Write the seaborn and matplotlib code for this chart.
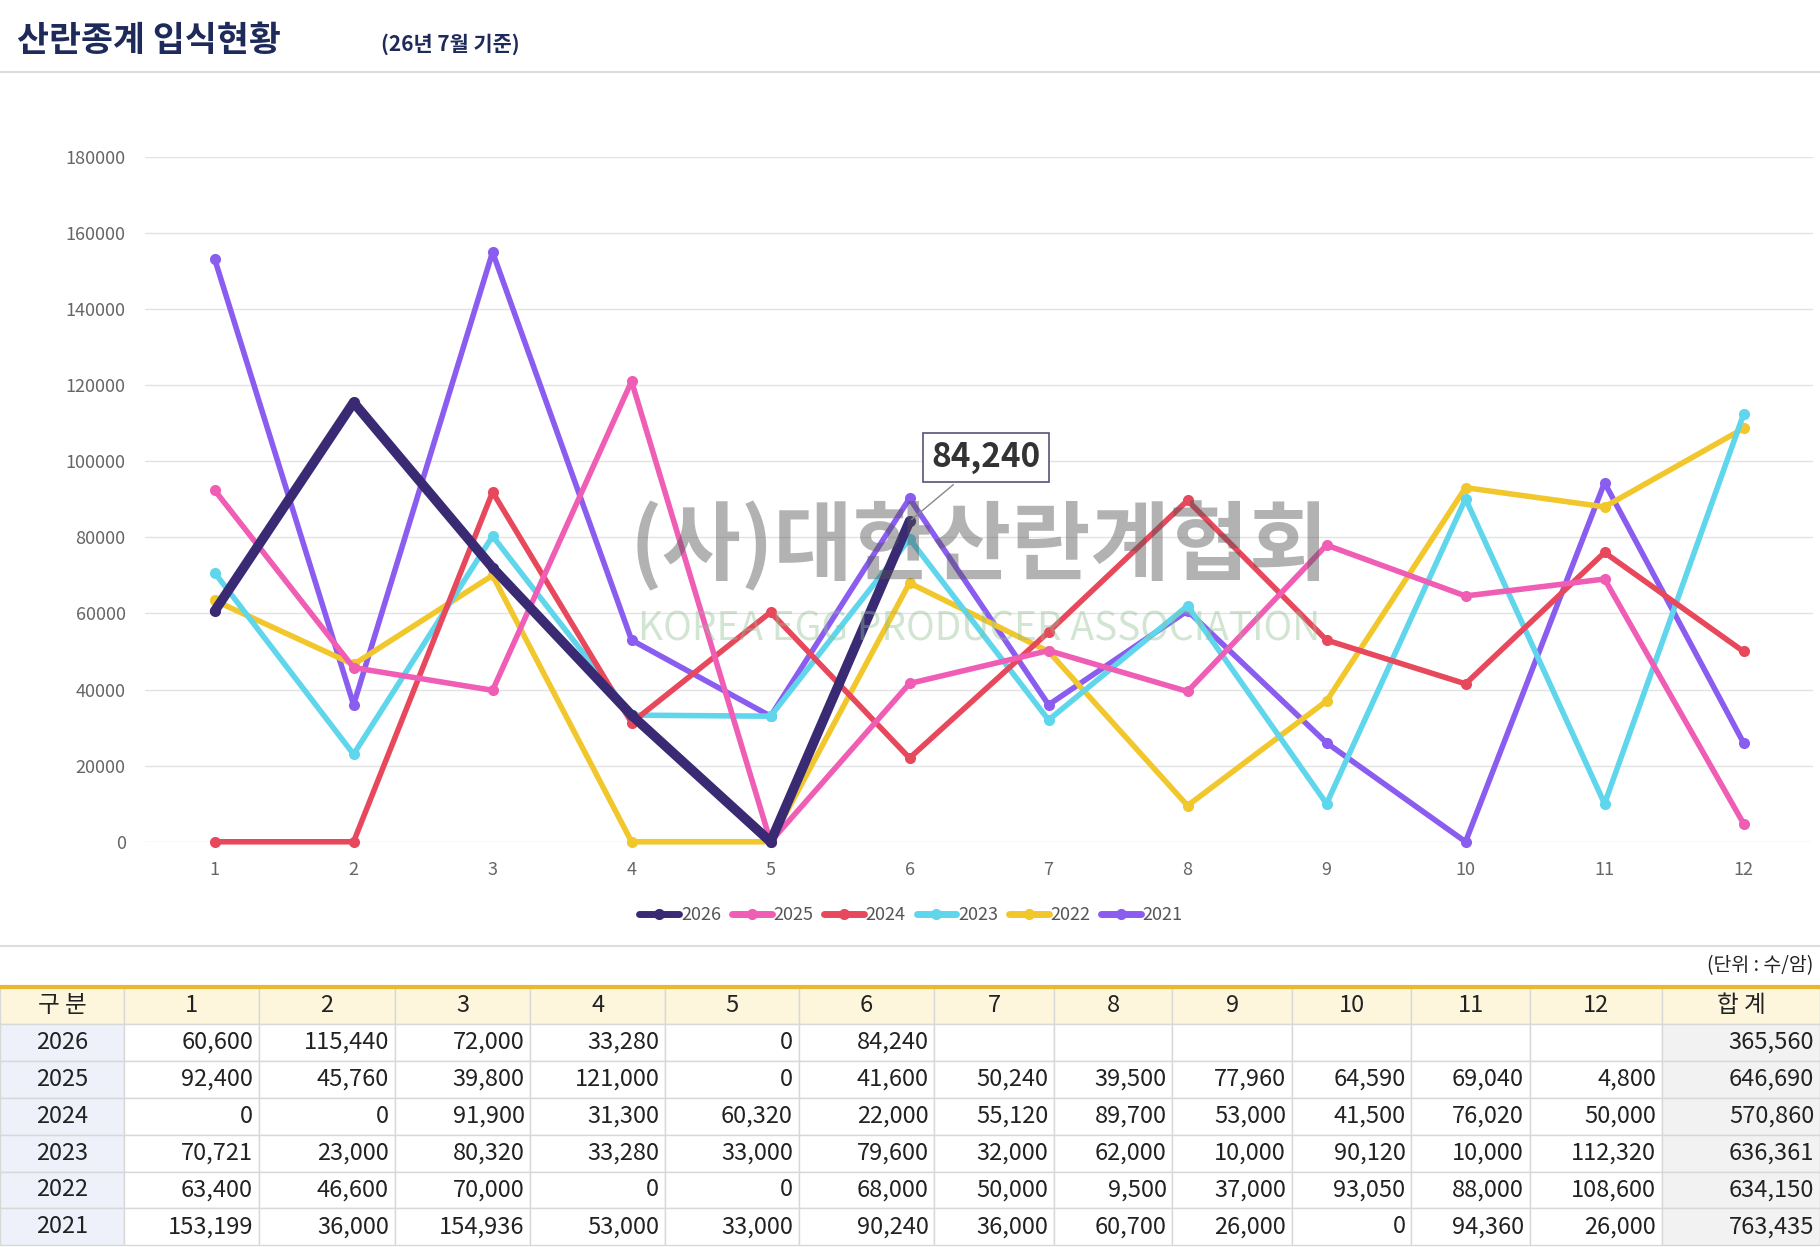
import matplotlib
matplotlib.use("Agg")
import matplotlib.pyplot as plt
import seaborn as sns
import pandas as pd
from matplotlib.patches import Rectangle
from matplotlib.lines import Line2D

months = list(range(1, 13))
years = ["2026", "2025", "2024", "2023", "2022", "2021"]
v2026 = [60600, 115440, 72000, 33280, 0, 84240, None, None, None, None, None, None]
v2025 = [92400, 45760, 39800, 121000, 0, 41600, 50240, 39500, 77960, 64590, 69040, 4800]
v2024 = [0, 0, 91900, 31300, 60320, 22000, 55120, 89700, 53000, 41500, 76020, 50000]
v2023 = [70721, 23000, 80320, 33280, 33000, 79600, 32000, 62000, 10000, 90120, 10000, 112320]
v2022 = [63400, 46600, 70000, 0, 0, 68000, 50000, 9500, 37000, 93050, 88000, 108600]
v2021 = [153199, 36000, 154936, 53000, 33000, 90240, 36000, 60700, 26000, 0, 94360, 26000]
totals = [365560, 646690, 570860, 636361, 634150, 763435]
series = [v2026, v2025, v2024, v2023, v2022, v2021]
colors = ["#3a2a74", "#f05db5", "#e8485c", "#5fd6ec", "#f1c72c", "#8a5cf0"]

sns.set_theme(style="white")
plt.rcParams['font.family'] = ['Noto Sans CJK KR', 'DejaVu Sans']

fig = plt.figure(figsize=(18.2, 12.47), dpi=100)
W, H = 1568.0, 1074.0
def fx(x): return x / W
def fy(y): return 1 - y / H

fig.text(fx(15), fy(35), "산란종계 입식현황", fontsize=25, fontweight='bold', color="#1e2a5a", va='center')
fig.text(fx(328), fy(38), "(26년 7월 기준)", fontsize=15, fontweight='bold', color="#1e2a5a", va='center')
fig.add_artist(Line2D([0, 1], [fy(62), fy(62)], color="#dddddd", lw=1.5))
fig.add_artist(Line2D([0, 1], [fy(815), fy(815)], color="#dddddd", lw=1.5))

ax = fig.add_axes([fx(125), fy(725), fx(1562) - fx(125), fy(135) - fy(725)])
for i in range(len(years) - 1, -1, -1):
    df = pd.DataFrame({"month": months, "v": series[i]}).dropna()
    sns.lineplot(data=df, x="month", y="v", ax=ax, color=colors[i],
                 lw=7 if i == 0 else 4, marker='o', markersize=8,
                 markeredgewidth=0, zorder=3 + (0 if i else 0))
ax.set_xlim(0.5, 12.5)
ax.set_ylim(0, 180000)
ax.set_yticks(range(0, 180001, 20000))
ax.set_xticks(months)
ax.set_xlabel(""); ax.set_ylabel("")
ax.tick_params(colors="#666666", labelsize=13, length=0, pad=14)
for s in ax.spines.values():
    s.set_visible(False)
ax.grid(axis='y', color="#e3e3e3", lw=1)
for l in ax.lines:
    l.set_clip_on(False)

ax.text(0.5, 0.43, "(사)대한산란계협회", transform=ax.transAxes, fontsize=62, fontweight='bold',
        color="#555555", alpha=0.45, ha='center', va='center', zorder=10)
ax.text(0.5, 0.31, "KOREA EGG PRODUCER ASSOCIATION", transform=ax.transAxes, fontsize=28,
        color="#8fbf8f", alpha=0.4, ha='center', va='center', zorder=10)
ax.annotate("84,240", xy=(6, 84240), xytext=(6.55, 101000), fontsize=24, fontweight='bold',
            color="#333333", ha='center', va='center',
            bbox=dict(boxstyle='square,pad=0.25', fc='white', ec='#555577', lw=1.2),
            arrowprops=dict(arrowstyle='-', color='#888888', lw=1), zorder=20)

handles = [Line2D([0], [0], color=c, lw=5, marker='o', markersize=7) for c in colors]
fig.legend(handles, years, loc='center', bbox_to_anchor=(fx(785), fy(788)), ncol=6, frameon=False,
           fontsize=13, handlelength=2.2, handletextpad=0.1, columnspacing=0.6, labelcolor="#555555")

fig.text(fx(1562), fy(832), "(단위 : 수/암)", fontsize=14, ha='right', va='center', color="#222222")

edges = [0, 107, 223, 340, 457, 573, 688, 805, 908, 1010, 1113, 1216, 1318, 1432, 1568]
top = 850; rh = 31.8
header = ["구 분"] + [str(m) for m in months] + ["합 계"]
def cell(c, r, text, bg, ha):
    x0, x1 = edges[c], edges[c + 1]
    y0 = top + r * rh
    fig.add_artist(Rectangle((fx(x0), fy(y0 + rh)), fx(x1 - x0), rh / H, fc=bg, ec="#d8d8d8", lw=1))
    if text:
        if ha == 'center':
            tx = (x0 + x1) / 2
        else:
            tx = x1 - 5
        fig.text(fx(tx), fy(y0 + rh / 2), text, fontsize=17, ha=ha, va='center', color="#222222")
for c, h in enumerate(header):
    cell(c, 0, h, "#fdf6dc", 'center')
fig.add_artist(Line2D([0, 1], [fy(top), fy(top)], color="#e8b830", lw=3))
for r, y in enumerate(years):
    cell(0, r + 1, y, "#eef0fa", 'center')
    for m in range(12):
        v = series[r][m]
        cell(m + 1, r + 1, "" if v is None else f"{v:,}", "white", 'right')
    cell(13, r + 1, f"{totals[r]:,}", "#f2f2f2", 'right')

fig.savefig("out.png", dpi=100)
